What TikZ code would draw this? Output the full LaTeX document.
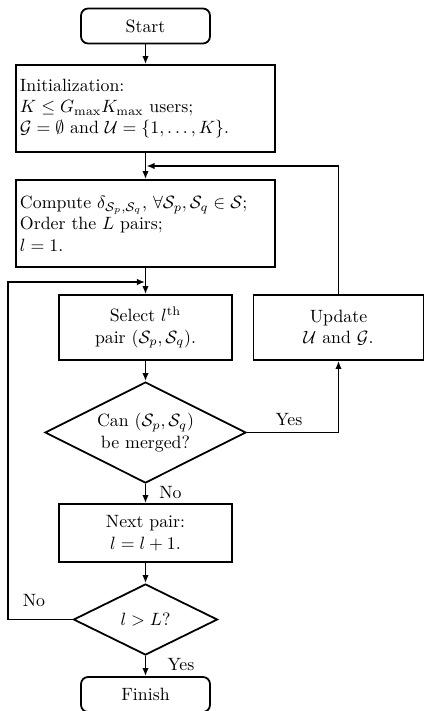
\documentclass[tikz,border=0pt]{standalone}
\usepackage{amsmath,amssymb}
\usetikzlibrary{shapes.geometric,arrows.meta}
\newcommand{\pxu}{0.5618pt}
\begin{document}
\begin{tikzpicture}[x=0.5618pt,y=-0.5618pt,
  line width=1pt,
  terminal/.style={draw,rounded corners=4pt,minimum width=129*\pxu,minimum height=35*\pxu,inner sep=0pt},
  leftbox/.style={draw,align=left,text width=251*\pxu,inner sep=2.2pt,minimum height=87*\pxu},
  procbox/.style={draw,align=center,minimum width=173*\pxu,inner sep=0pt},
  decision/.style={draw,diamond,align=center,inner sep=-30pt},
  conn/.style={-{Latex[length=4.5pt,width=3.6pt]}},
  lbl/.style={inner sep=0pt}]
\useasboundingbox (0,0) rectangle (424,711);
\node[terminal] (start) at (145.5,26) {Start};
\node[leftbox] (init) at (145.5,108.5) {Initialization:\\ $K\le G_{\max}K_{\max}$ users;\\ $\mathcal{G}=\emptyset$ and $\mathcal{U}=\{1,\ldots,K\}$.};
\node[leftbox] (comp) at (145.5,223.5) {Compute $\delta_{\mathcal{S}_p,\mathcal{S}_q}$, $\forall \mathcal{S}_p,\mathcal{S}_q\in\mathcal{S}$;\\ Order the $L$ pairs;\\ $l=1$.};
\node[procbox,minimum height=65*\pxu] (sel) at (145.5,327.5) {Select $l^{\mathrm{th}}$\\ pair $(\mathcal{S}_p,\mathcal{S}_q)$.};
\node[procbox,minimum width=170*\pxu,minimum height=65*\pxu] (upd) at (338.5,327.5) {Update\\ $\mathcal{U}$ and $\mathcal{G}$.};
\node[decision,minimum width=201*\pxu,minimum height=101*\pxu] (dec1) at (145.5,432.5) {Can $(\mathcal{S}_p,\mathcal{S}_q)$\\ be merged?};
\node[procbox,minimum height=58*\pxu] (next) at (145.5,533) {Next pair:\\ $l=l+1$.};
\node[decision,minimum width=144*\pxu,minimum height=71*\pxu] (dec2) at (145.5,619.5) {$l>L$?};
\node[terminal] (fin) at (145.5,694.5) {Finish};
\coordinate (fbA) at (338.5,166);
\coordinate (fbB) at (146.5,166);
\coordinate (lpA) at (8,619.5);
\coordinate (lpB) at (8,282);
\coordinate (lpC) at (145,282);
\draw[conn] (start) -- (init);
\draw[conn] (init) -- (comp);
\draw[conn] (comp) -- (sel);
\draw[conn] (sel) -- (dec1);
\draw[conn] (dec1) -- (next);
\draw[conn] (next) -- (dec2);
\draw[conn] (dec2) -- (fin);
\draw[conn] (dec1.east) -| (upd.south);
\draw[conn] (upd.north) -- (fbA) -- (fbB);
\draw[conn] (dec2.west) -- (lpA) -- (lpB) -- (lpC);
\node[lbl] (yes1) at (289,420) {Yes};
\node[lbl] (no1) at (170.5,493) {No};
\node[lbl] (no2) at (34,601) {No};
\node[lbl] (yes2) at (181,665) {Yes};
\end{tikzpicture}
\end{document}
